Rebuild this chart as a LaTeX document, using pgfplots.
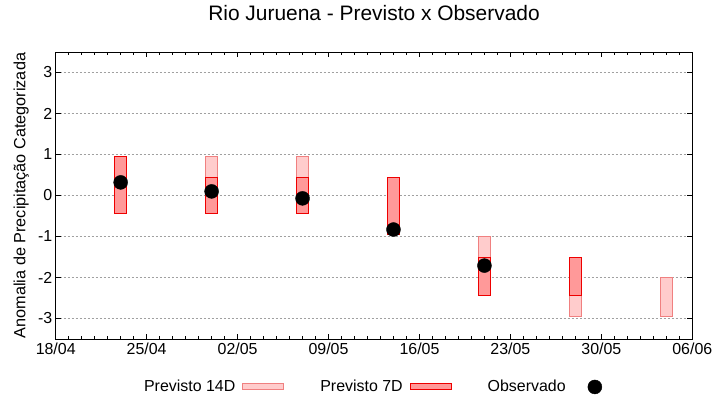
\documentclass[border=0pt]{standalone}
\usepackage{fontspec}
\setmainfont{Liberation Sans}
\usepackage{pgfplots}
\pgfplotsset{compat=1.18}

\definecolor{fill14}{RGB}{255,204,204}
\definecolor{edge14}{RGB}{240,128,128}
\definecolor{fill7}{RGB}{255,153,153}
\definecolor{edge7}{RGB}{238,0,0}

\tikzset{
  bar14/.style={fill=fill14, draw=edge14, line width=1bp},
  bar7/.style={fill=fill7, draw=edge7, line width=1bp},
}

\begin{document}
\begin{tikzpicture}
\useasboundingbox (0,0) rectangle (720bp,400bp);
\begin{axis}[
  at={(55.7bp,61bp)}, anchor=south west,
  scale only axis, width=636.6bp, height=287bp,
  xmin=0, xmax=49, ymin=-3.5, ymax=3.5,
  xtick={0,7,...,49},
  xticklabels={18/04,25/04,02/05,09/05,16/05,23/05,30/05,06/06},
  minor x tick num=6,
  ytick={-3,...,3}, yticklabels={-3,-2,-1,0,1,2,3},
  ymajorgrids, grid style={color={rgb,255:red,160;green,160;blue,160}, dash pattern=on 2bp off 2bp, line width=0.8bp},
  major tick length=5bp, minor tick length=2.5bp,
  tick style={black, line width=0.8bp},
  axis line style={line width=1bp},
  tick label style={font=\fontsize{16}{19}\selectfont},
  title={Rio Juruena - Previsto x Observado},
  title style={font=\fontsize{21}{25}\selectfont, at={(0.5,1)}, anchor=center, yshift=33bp},
  ylabel={Anomalia de Precipitação Categorizada},
  ylabel style={font=\fontsize{16.3}{19}\selectfont, at={(axis description cs:-0.054,0.5)}, anchor=center},
  legend columns=3,
  legend plot pos=right,
  legend style={draw=none, fill=none, font=\fontsize{16}{19}\selectfont,
    at={(0.497,-0.167)}, anchor=center,
    /tikz/every odd column/.append style={column sep=5bp},
    /tikz/every even column/.append style={column sep=34bp}},
]
% Previsto 14D
\addplot[bar14, legend image code/.code={\draw[bar14] (0bp,-3bp) rectangle (41bp,3bp);}]
  coordinates {(11.54,-0.45) (12.46,-0.45) (12.46,0.95) (11.54,0.95)} -- cycle;
\addlegendentry{Previsto 14D}
\addplot[bar14, forget plot] coordinates {(18.54,-0.45) (19.46,-0.45) (19.46,0.95) (18.54,0.95)} -- cycle;
\addplot[bar14, forget plot] coordinates {(32.54,-2.45) (33.46,-2.45) (33.46,-1.0) (32.54,-1.0)} -- cycle;
\addplot[bar14, forget plot] coordinates {(39.54,-2.95) (40.46,-2.95) (40.46,-1.5) (39.54,-1.5)} -- cycle;
\addplot[bar14, forget plot] coordinates {(46.54,-2.95) (47.46,-2.95) (47.46,-2.0) (46.54,-2.0)} -- cycle;
% Previsto 7D
\addplot[bar7, legend image code/.code={\draw[bar7] (0bp,-3bp) rectangle (41bp,3bp);}]
  coordinates {(4.54,-0.45) (5.46,-0.45) (5.46,0.95) (4.54,0.95)} -- cycle;
\addlegendentry{Previsto 7D}
\addplot[bar7, forget plot] coordinates {(11.54,-0.45) (12.46,-0.45) (12.46,0.45) (11.54,0.45)} -- cycle;
\addplot[bar7, forget plot] coordinates {(18.54,-0.45) (19.46,-0.45) (19.46,0.45) (18.54,0.45)} -- cycle;
\addplot[bar7, forget plot] coordinates {(25.54,-0.95) (26.46,-0.95) (26.46,0.45) (25.54,0.45)} -- cycle;
\addplot[bar7, forget plot] coordinates {(32.54,-2.45) (33.46,-2.45) (33.46,-1.5) (32.54,-1.5)} -- cycle;
\addplot[bar7, forget plot] coordinates {(39.54,-2.45) (40.46,-2.45) (40.46,-1.5) (39.54,-1.5)} -- cycle;
% Observado
\addplot[only marks, mark=*, mark size=7bp, black,
  legend image code/.code={\path (0bp,0bp); \fill[black] (22bp,0bp) circle (7bp);}]
  coordinates {(5,0.32) (12,0.10) (19,-0.07) (26,-0.83) (33,-1.71)};
\addlegendentry{Observado}
\end{axis}
\end{tikzpicture}
\end{document}
